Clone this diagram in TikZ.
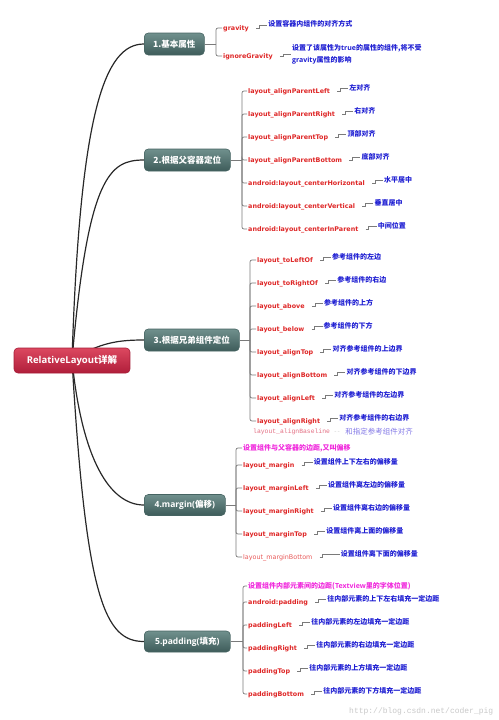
\documentclass[tikz,border=0pt]{standalone}
\usepackage{fontspec}
\setmainfont{Noto Sans CJK SC}
\setmonofont{Liberation Mono}
\newfontfamily\lat{Open Sans}
\newfontfamily\latd{DejaVu Sans}
\definecolor{itemred}{RGB}{222,38,38}
\definecolor{itemlight}{RGB}{232,90,90}
\definecolor{descblue}{RGB}{30,30,210}
\definecolor{notemag}{RGB}{240,40,220}
\definecolor{brgray}{RGB}{122,122,122}
\definecolor{trunkc}{RGB}{40,40,40}
\definecolor{brtop}{RGB}{112,144,141}
\definecolor{brbot}{RGB}{62,92,90}
\definecolor{brline}{RGB}{70,100,98}
\definecolor{rttop}{RGB}{220,72,96}
\definecolor{rtbot}{RGB}{176,30,58}
\definecolor{rtline}{RGB}{165,28,54}
\definecolor{basered}{RGB}{226,110,130}
\definecolor{baseblue}{RGB}{130,120,230}
\definecolor{wmgray}{RGB}{200,200,200}
\newcommand\mmitem[6]{%
  \node[#6] (#2) at (#4,#3) {#5};
}
\newcommand\mmdesc[3]{%
  \node[desc] (#1d) at ([xshift=#3,yshift=3pt]#1.east) {#2};
  \draw[cn] ([xshift=6pt]#1.east) -- ++(3pt,0) |- (#1d.west);
}
\begin{document}
\begin{tikzpicture}[x=1pt,y=-1pt,
  branch/.style={rounded corners=4pt, draw=brline, line width=0.6pt, top color=brtop, bottom color=brbot,
    text=white, font=\bfseries\fontsize{8.5}{10}\selectfont, anchor=west, inner sep=2pt, align=center},
  rootbox/.style={rounded corners=4pt, draw=rtline, line width=0.6pt, top color=rttop, bottom color=rtbot,
    text=white, font=\bfseries\fontsize{9.5}{11}\selectfont, inner sep=2pt, minimum width=116pt, minimum height=25pt},
  item/.style={anchor=west, inner sep=1pt, text=itemred, font=\latd\bfseries\fontsize{6.4}{8}\selectfont,
    text height=5.5pt, text depth=1.5pt},
  itemthin/.style={item, text=itemlight, font=\latd\fontsize{6.4}{8}\selectfont},
  note/.style={anchor=west, inner sep=1pt, text=notemag, font=\bfseries\fontsize{7}{8}\selectfont,
    text height=5.5pt, text depth=1.5pt},
  desc/.style={anchor=west, inner sep=1pt, text=descblue, font=\bfseries\fontsize{7}{12.5}\selectfont,
    text height=5.5pt, text depth=1.5pt, align=left},
  br/.style={draw=brgray, line width=0.7pt, rounded corners=2pt},
  cn/.style={draw=brgray, line width=0.6pt},
  trunk/.style={draw=trunkc, line width=1.2pt}]
\useasboundingbox (0,0) rectangle (498,720);

% trunk curves
\coordinate (rc) at (72,360);
\draw[trunk] (rc) .. controls (80,110) and (105,44) .. (144,44);
\draw[trunk] (rc) .. controls (88,175) and (110,160) .. (144,160);
\draw[trunk] (rc) .. controls (100,342) and (120,340) .. (144,340);
\draw[trunk] (rc) .. controls (82,460) and (110,505) .. (144,505);
\draw[trunk] (rc) .. controls (86,600) and (105,641.5) .. (144,641.5);

% root
\node[rootbox] (root) at (72,360.5) {{\lat RelativeLayout}详解};

% branch boxes
\node[branch, minimum width=60pt, minimum height=22pt] (b1) at (144,44) {1.基本属性};
\node[branch, minimum width=86pt, minimum height=22pt] (b2) at (144,160) {2.根据父容器定位};
\node[branch, minimum width=95pt, minimum height=22pt] (b3) at (144,340) {3.根据兄弟组件定位};
\node[branch, minimum width=81pt, minimum height=21pt] (b4) at (144,505) {{\lat 4.margin(}偏移{\lat )}};
\node[branch, minimum width=86pt, minimum height=21pt] (b5) at (144,641.5) {{\lat 5.padding(}填充{\lat )}};

% bracket coordinates
\coordinate (k1) at (216,44);
\coordinate (k2) at (242,160);
\coordinate (k3) at (250,340);
\coordinate (k4) at (236,505);
\coordinate (k5) at (243,641.5);
\draw[br] (b1.east) -- (k1);
\draw[br] (b2.east) -- (k2);
\draw[br] (b3.east) -- (k3);
\draw[br] (b4.east) -- (k4);
\draw[br] (b5.east) -- (k5);

% ---- branch 1
\mmitem{k1}{g1}{28}{222}{gravity}{item}
\mmitem{k1}{g2}{56}{222}{ignoreGravity}{item}
\mmdesc{g1}{设置容器内组件的对齐方式}{17pt}
\node[desc, text height=, text depth=] (g2d) at ([xshift=17pt,yshift=1.5pt]g2.east)
  {设置了该属性为{\lat true}的属性的组件,将不受\\{\lat gravity}属性的影响};
\draw[cn] ([xshift=6pt]g2.east) -- ++(3pt,0) |- (g2d.west);
\foreach \n in {g1,g2} \draw[br] (k1) |- (\n.west);

% ---- branch 2
\mmitem{k2}{p1}{91}{247}{layout\_alignParentLeft}{item}
\mmitem{k2}{p2}{114}{247}{layout\_alignParentRight}{item}
\mmitem{k2}{p3}{137}{247}{layout\_alignParentTop}{item}
\mmitem{k2}{p4}{160}{247}{layout\_alignParentBottom}{item}
\mmitem{k2}{p5}{183}{247}{android:layout\_centerHorizontal}{item}
\mmitem{k2}{p6}{206}{247}{android:layout\_centerVertical}{item}
\mmitem{k2}{p7}{229}{247}{android:layout\_centerInParent}{item}
\mmdesc{p1}{左对齐}{17pt}
\mmdesc{p2}{右对齐}{17pt}
\mmdesc{p3}{顶部对齐}{17pt}
\mmdesc{p4}{底部对齐}{17pt}
\mmdesc{p5}{水平居中}{17pt}
\mmdesc{p6}{垂直居中}{17pt}
\mmdesc{p7}{中间位置}{17pt}
\foreach \n in {p1,p2,p3,p4,p5,p6,p7} \draw[br] (k2) |- (\n.west);

% ---- branch 3
\mmitem{k3}{s1}{260}{256}{layout\_toLeftOf}{item}
\mmitem{k3}{s2}{283}{256}{layout\_toRightOf}{item}
\mmitem{k3}{s3}{306}{256}{layout\_above}{item}
\mmitem{k3}{s4}{329}{256}{layout\_below}{item}
\mmitem{k3}{s5}{352}{256}{layout\_alignTop}{item}
\mmitem{k3}{s6}{375}{256}{layout\_alignBottom}{item}
\mmitem{k3}{s7}{398}{256}{layout\_alignLeft}{item}
\mmitem{k3}{s8}{421}{256}{layout\_alignRight}{item}
\mmdesc{s1}{参考组件的左边}{17pt}
\mmdesc{s2}{参考组件的右边}{17pt}
\mmdesc{s3}{参考组件的上方}{17pt}
\mmdesc{s4}{参考组件的下方}{17pt}
\mmdesc{s5}{对齐参考组件的上边界}{17pt}
\mmdesc{s6}{对齐参考组件的下边界}{17pt}
\mmdesc{s7}{对齐参考组件的左边界}{17pt}
\mmdesc{s8}{对齐参考组件的右边界}{17pt}
\foreach \n in {s1,s2,s3,s4,s5,s6,s7,s8} \draw[br] (k3) |- (\n.west);
\node[anchor=west, inner sep=0pt, font=\ttfamily\fontsize{6.4}{8}\selectfont, text=basered] (s9) at (253,432)
  {layout\_alignBaseline};
\node[anchor=west, inner sep=0pt, font=\fontsize{6.4}{8}\selectfont, text=wmgray] (s9m) at ([xshift=4pt]s9.east) {-\,-};
\node[anchor=west, inner sep=0pt, font=\fontsize{7.5}{9}\selectfont, text=baseblue] (s9d) at ([xshift=5pt]s9m.east)
  {和指定参考组件对齐};

% ---- branch 4
\node[note] (m0) at (242,448) {设置组件与父容器的边距,又叫偏移};
\mmitem{k4}{m1}{465}{242}{layout\_margin}{item}
\mmitem{k4}{m2}{488}{242}{layout\_marginLeft}{item}
\mmitem{k4}{m3}{511}{242}{layout\_marginRight}{item}
\mmitem{k4}{m4}{534}{242}{layout\_marginTop}{item}
\mmitem{k4}{m5}{557}{242}{layout\_marginBottom}{itemthin}
\mmdesc{m1}{设置组件上下左右的偏移量}{17pt}
\mmdesc{m2}{设置组件离左边的偏移量}{17pt}
\mmdesc{m3}{设置组件离右边的偏移量}{17pt}
\mmdesc{m4}{设置组件离上面的偏移量}{17pt}
\mmdesc{m5}{设置组件离下面的偏移量}{26pt}
\foreach \n in {m0,m1,m2,m3,m4,m5} \draw[br] (k4) |- (\n.west);

% ---- branch 5
\node[note] (q0) at (247,586) {设置组件内部元素间的边距({\lat Textview}里的字体位置)};
\mmitem{k5}{q1}{602}{247}{android:padding}{item}
\mmitem{k5}{q2}{625}{247}{paddingLeft}{item}
\mmitem{k5}{q3}{648}{247}{paddingRight}{item}
\mmitem{k5}{q4}{671}{247}{paddingTop}{item}
\mmitem{k5}{q5}{694}{247}{paddingBottom}{item}
\mmdesc{q1}{往内部元素的上下左右填充一定边距}{17pt}
\mmdesc{q2}{往内部元素的左边填充一定边距}{17pt}
\mmdesc{q3}{往内部元素的右边填充一定边距}{17pt}
\mmdesc{q4}{往内部元素的上方填充一定边距}{17pt}
\mmdesc{q5}{往内部元素的下方填充一定边距}{17pt}
\foreach \n in {q0,q1,q2,q3,q4,q5} \draw[br] (k5) |- (\n.west);

% watermark
\node[anchor=west, inner sep=0pt, font=\ttfamily\fontsize{8}{9}\selectfont, text=wmgray] (wm) at (349,711)
  {http://blog.csdn.net/coder\_pig};
\end{tikzpicture}
\end{document}
